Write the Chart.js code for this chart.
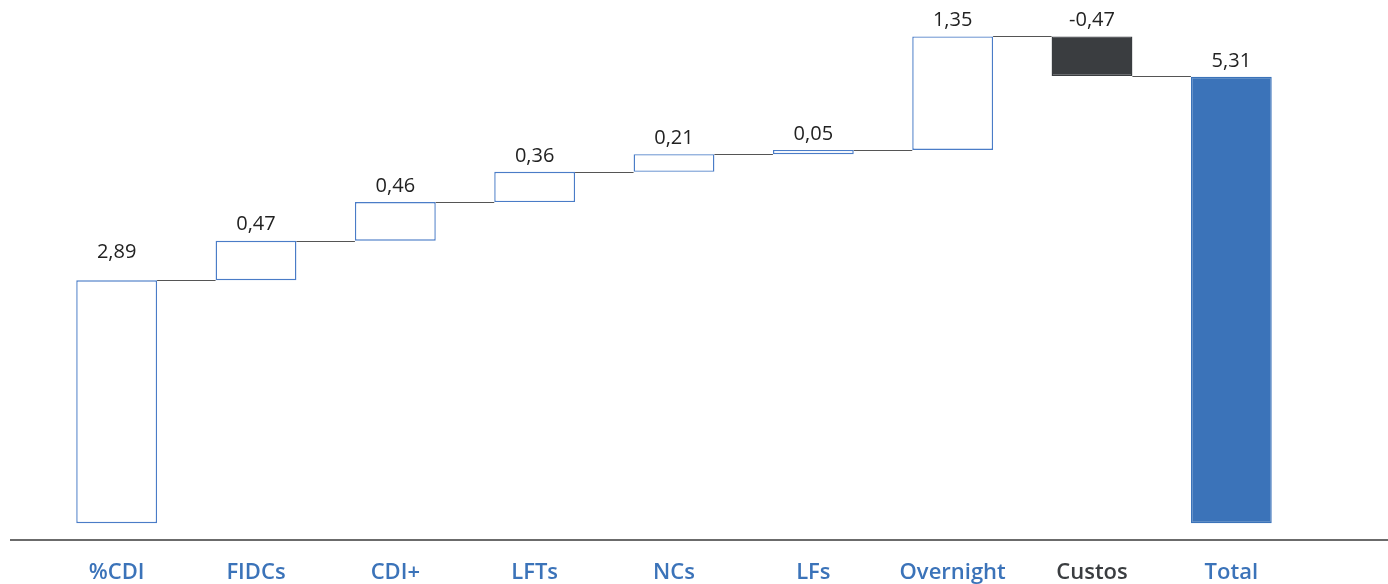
<!DOCTYPE html>
<html><head><meta charset="utf-8">
<script src="https://cdn.jsdelivr.net/npm/chart.js@4"></script>
<style>html,body{margin:0;padding:0;background:#fff;}#wrap{width:1388px;height:584px;position:relative;}</style>
</head><body><div id="wrap"><canvas id="c" width="1388" height="584"></canvas></div>
<script>
const categories = ['%CDI','FIDCs','CDI+','LFTs','NCs','LFs','Overnight','Custos','Total'];
const values = [2.89, 0.47, 0.46, 0.36, 0.21, 0.05, 1.35, -0.47, 5.31];
const isTotal = [false,false,false,false,false,false,false,false,true];
const yTicks = [0,1,2,3,4,5,6];

const ranges = [];
let run = 0;
values.forEach((v,i)=>{
  if(isTotal[i]){ ranges.push([0,v]); }
  else { ranges.push([run, run+v]); run += v; }
});
const BLUE='#3b73b9', DARK='#3a3d40', OUT='#4a7cc7';
const fills = values.map((v,i)=> isTotal[i]?BLUE:(v<0?DARK:'#ffffff'));
const borders = values.map((v,i)=> isTotal[i]?BLUE:(v<0?DARK:OUT));
const labelColors = values.map((v,i)=> (v<0 && !isTotal[i])?'#3a3d40':'#3b73b9');
const fmt = v => v.toFixed(2).replace('.',',');

const plug = {
  id:'wf',
  afterDatasetsDraw(chart){
    const ctx=chart.ctx, meta=chart.getDatasetMeta(0), y=chart.scales.y;
    ctx.save();
    ctx.strokeStyle='#555'; ctx.lineWidth=1;
    for(let i=0;i<meta.data.length-1;i++){
      const a=meta.data[i], b=meta.data[i+1];
      const lvl = ranges[i][1];
      const yy=Math.round(y.getPixelForValue(lvl))+0.5;
      ctx.beginPath(); ctx.moveTo(a.x+a.width/2,yy); ctx.lineTo(b.x-b.width/2,yy); ctx.stroke();
    }
    ctx.fillStyle='#222'; ctx.font='20px "Open Sans", sans-serif'; ctx.textAlign='center'; ctx.textBaseline='middle';
    meta.data.forEach((bar,i)=>{
      const top=y.getPixelForValue(Math.max(ranges[i][0],ranges[i][1]));
      const off = i===0?28:16;
      ctx.fillText(fmt(values[i]), bar.x, top-off);
    });
    ctx.strokeStyle='#3a3a3a'; ctx.lineWidth=1.5;
    const by=chart.chartArea.bottom;
    ctx.beginPath(); ctx.moveTo(10,by); ctx.lineTo(1388,by); ctx.stroke();
    ctx.restore();
  }
};

new Chart(document.getElementById('c'),{
  type:'bar',
  data:{labels:categories,datasets:[{data:ranges,backgroundColor:fills,borderColor:borders,borderWidth:1.4,borderSkipped:false,barPercentage:0.58,categoryPercentage:1}]},
  options:{
    responsive:false,animation:false,
    layout:{padding:{left:47,right:87,top:2,bottom:0}},
    plugins:{legend:{display:false},tooltip:{enabled:false}},
    scales:{
      x:{grid:{display:false,drawTicks:false},border:{display:false},
         afterFit(s){s.height=44;},
         ticks:{color:labelColors,font:{family:'"Open Sans", sans-serif',size:22,weight:'600'},padding:20,maxRotation:0}},
      y:{display:false,min:-0.2,max:6.2,afterBuildTicks(s){s.ticks=yTicks.map(v=>({value:v}));}}
    }
  },
  plugins:[plug]
});
</script></body></html>
